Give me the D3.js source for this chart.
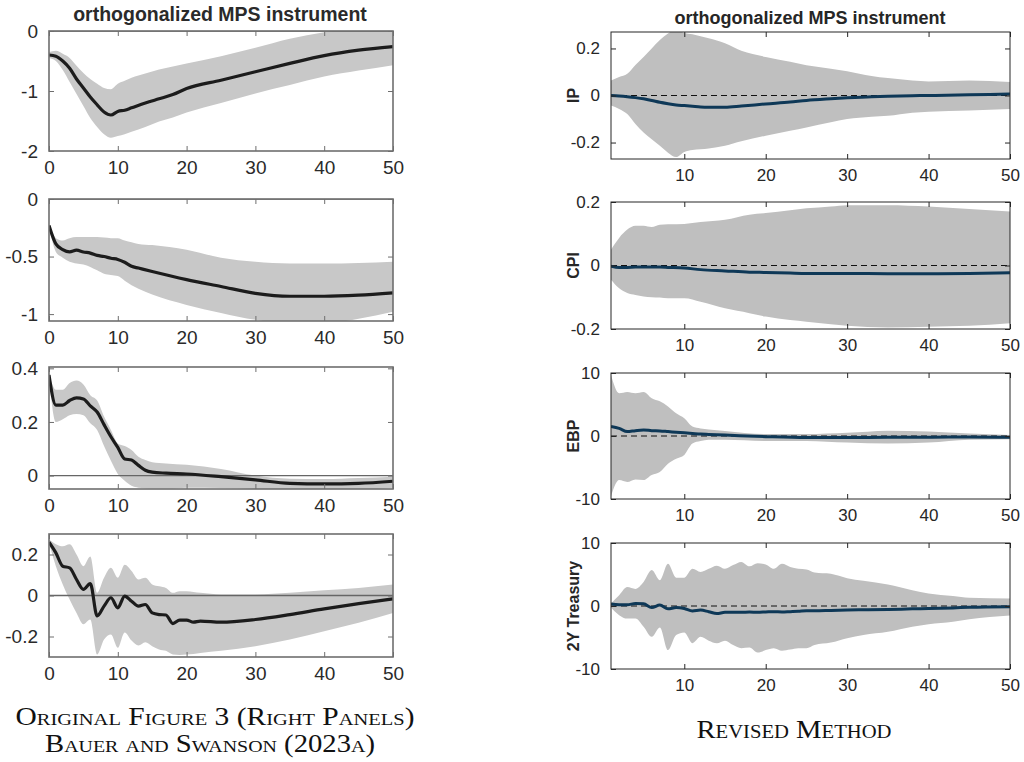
<!DOCTYPE html>
<html>
<head>
<meta charset="utf-8">
<script src="https://cdn.jsdelivr.net/npm/d3@7"></script>
<style>
  html, body { margin: 0; padding: 0; background: #fff; }
  svg { display: block; }
</style>
</head>
<body>
<svg id="chart" width="1024" height="762"></svg>
<script>
// rows: [horizon, lower band, median, upper band]
const origIP = [
  [0, -0.45, -0.40, -0.35], [1, -0.50, -0.42, -0.33], [2, -0.65, -0.50, -0.38], [3, -0.85, -0.62, -0.45],
  [4, -1.05, -0.80, -0.58], [5, -1.25, -0.95, -0.70], [6, -1.45, -1.10, -0.80], [7, -1.60, -1.23, -0.88],
  [8, -1.72, -1.35, -0.95], [9, -1.78, -1.40, -0.97], [10, -1.75, -1.34, -0.88], [11, -1.72, -1.32, -0.83],
  [12, -1.68, -1.28, -0.78], [14, -1.60, -1.20, -0.71], [16, -1.51, -1.13, -0.64], [18, -1.44, -1.06, -0.59],
  [20, -1.36, -0.96, -0.54], [25, -1.20, -0.82, -0.42], [30, -1.04, -0.68, -0.28], [35, -0.90, -0.54, -0.13],
  [40, -0.76, -0.41, -0.02], [45, -0.66, -0.32, 0.04], [50, -0.57, -0.26, 0.08]
]
const origCPI = [
  [0, -0.24, -0.23, -0.22], [1, -0.46, -0.39, -0.34], [2, -0.51, -0.44, -0.36], [3, -0.545, -0.46, -0.34],
  [4, -0.56, -0.445, -0.33], [5, -0.57, -0.46, -0.33], [6, -0.59, -0.47, -0.33], [7, -0.62, -0.49, -0.33],
  [8, -0.65, -0.50, -0.335], [9, -0.66, -0.515, -0.34], [10, -0.67, -0.525, -0.34], [11, -0.71, -0.55, -0.36],
  [12, -0.75, -0.585, -0.375], [13, -0.78, -0.60, -0.39], [15, -0.83, -0.63, -0.40], [20, -0.92, -0.70, -0.44],
  [25, -0.99, -0.76, -0.51], [30, -1.05, -0.82, -0.545], [35, -1.08, -0.845, -0.56], [40, -1.08, -0.845, -0.56],
  [45, -1.04, -0.835, -0.555], [50, -0.98, -0.815, -0.545]
]
const origEBP = [
  [0, 0.37, 0.375, 0.38], [1, 0.20, 0.263, 0.32], [2, 0.21, 0.263, 0.32], [3, 0.225, 0.28, 0.345],
  [4, 0.23, 0.29, 0.355], [5, 0.225, 0.286, 0.34], [6, 0.195, 0.26, 0.30], [7, 0.17, 0.237, 0.28],
  [8, 0.11, 0.19, 0.22], [9, 0.055, 0.145, 0.17], [10, 0.006, 0.105, 0.12], [11, -0.019, 0.062, 0.11],
  [12, -0.038, 0.058, 0.095], [13, -0.045, 0.038, 0.07], [14, -0.047, 0.02, 0.058], [15, -0.048, 0.013, 0.05],
  [17, -0.048, 0.009, 0.045], [20, -0.045, 0.006, 0.04], [25, -0.046, -0.004, 0.025], [30, -0.05, -0.016, 0.0],
  [35, -0.06, -0.029, -0.012], [40, -0.06, -0.031, -0.013], [45, -0.055, -0.029, -0.009], [50, -0.045, -0.021, -0.004]
]
const origTreasury = [
  [0, 0.257, 0.26, 0.273], [1, 0.143, 0.208, 0.25], [2, 0.054, 0.143, 0.24], [3, -0.02, 0.135, 0.25],
  [4, -0.085, 0.078, 0.20], [5, -0.14, 0.03, 0.143], [6, -0.117, 0.058, 0.19], [7, -0.288, -0.10, 0.013],
  [8, -0.215, -0.052, 0.086], [9, -0.19, -0.011, 0.135], [10, -0.255, -0.06, 0.086], [11, -0.18, -0.003, 0.15],
  [12, -0.22, -0.028, 0.12], [13, -0.244, -0.052, 0.078], [14, -0.228, -0.044, 0.086], [15, -0.247, -0.085, 0.054],
  [16, -0.263, -0.093, 0.045], [17, -0.27, -0.095, 0.037], [18, -0.288, -0.137, 0.013], [19, -0.29, -0.12, 0.021],
  [20, -0.288, -0.12, 0.021], [21, -0.285, -0.13, 0.017], [22, -0.28, -0.125, 0.013], [25, -0.27, -0.13, 0.005],
  [30, -0.247, -0.117, 0.005], [35, -0.215, -0.093, 0.013], [40, -0.174, -0.065, 0.026], [45, -0.133, -0.04, 0.037],
  [50, -0.085, -0.016, 0.054]
]

const revIP = [
  [1, -0.043, 0.0, 0.064], [2, -0.057, -0.002, 0.079], [3, -0.079, -0.005, 0.093], [4, -0.121, -0.009, 0.13],
  [5, -0.157, -0.014, 0.164], [6, -0.186, -0.021, 0.20], [7, -0.214, -0.029, 0.236], [8, -0.243, -0.035, 0.264],
  [9, -0.262, -0.04, 0.279], [10, -0.24, -0.043, 0.266], [11, -0.232, -0.046, 0.26], [12, -0.229, -0.049, 0.252],
  [13, -0.225, -0.05, 0.243], [15, -0.214, -0.05, 0.222], [17, -0.195, -0.045, 0.19], [20, -0.171, -0.036, 0.164],
  [23, -0.15, -0.028, 0.143], [25, -0.136, -0.021, 0.129], [28, -0.114, -0.014, 0.114], [30, -0.10, -0.01, 0.103],
  [33, -0.09, -0.005, 0.083], [35, -0.086, -0.003, 0.074], [38, -0.073, -0.001, 0.064], [40, -0.069, 0.0, 0.06],
  [45, -0.064, 0.003, 0.064], [50, -0.057, 0.006, 0.057]
]
const revCPI = [
  [1, -0.045, -0.002, 0.05], [2, -0.072, -0.006, 0.087], [3, -0.087, -0.006, 0.113], [4, -0.093, -0.005, 0.125],
  [5, -0.098, -0.005, 0.125], [6, -0.10, -0.005, 0.121], [7, -0.101, -0.005, 0.128], [8, -0.103, -0.006, 0.13],
  [10, -0.103, -0.008, 0.131], [12, -0.114, -0.013, 0.137], [15, -0.135, -0.017, 0.144], [18, -0.15, -0.021, 0.16],
  [20, -0.161, -0.022, 0.165], [23, -0.172, -0.024, 0.174], [25, -0.177, -0.025, 0.18], [28, -0.185, -0.025, 0.186],
  [30, -0.19, -0.025, 0.19], [35, -0.195, -0.026, 0.19], [40, -0.193, -0.026, 0.186], [45, -0.19, -0.025, 0.178],
  [50, -0.182, -0.023, 0.17]
]
const revEBP = [
  [1, -9.6, 1.5, 9.7], [2, -7.0, 1.2, 6.8], [3, -7.3, 0.7, 7.0], [4, -6.9, 0.85, 6.8],
  [5, -7.0, 0.95, 7.0], [6, -6.2, 0.85, 6.0], [7, -5.7, 0.8, 5.5], [8, -4.4, 0.7, 4.7],
  [9, -3.6, 0.6, 3.6], [10, -3.0, 0.5, 2.8], [11, -1.2, 0.4, 1.5], [12, -0.8, 0.3, 1.2],
  [13, -0.6, 0.25, 1.05], [15, -0.6, 0.15, 0.8], [20, -0.8, -0.1, 0.3], [25, -0.8, -0.25, 0.3],
  [30, -1.05, -0.25, 0.5], [35, -1.2, -0.2, 0.85], [40, -1.05, -0.2, 0.7], [45, -0.6, -0.15, 0.4],
  [50, -0.5, -0.2, 0.15]
]
const revTreasury = [
  [1, -0.25, 0.3, 0.4], [2, -1.45, 0.2, 1.7], [3, -2.0, 0.2, 3.0], [4, -2.0, 0.4, 2.7],
  [5, -3.3, 0.35, 3.8], [6, -4.9, -0.25, 5.7], [7, -3.4, 0.15, 4.1], [8, -7.0, -0.45, 6.7],
  [9, -4.6, -0.25, 4.5], [10, -4.2, -0.4, 4.5], [11, -5.9, -0.8, 5.9], [12, -4.9, -0.65, 5.4],
  [13, -5.5, -0.9, 5.9], [14, -5.9, -1.2, 6.4], [15, -5.5, -1.0, 5.9], [16, -6.2, -1.0, 6.5],
  [17, -6.7, -1.0, 7.0], [18, -6.6, -0.95, 6.3], [19, -7.4, -1.0, 6.8], [20, -7.0, -0.95, 6.6],
  [21, -6.7, -0.9, 5.9], [22, -7.1, -0.95, 6.7], [23, -6.9, -0.9, 6.2], [24, -6.7, -0.85, 5.9],
  [25, -6.7, -0.75, 5.8], [26, -6.2, -0.75, 5.3], [28, -5.8, -0.7, 5.1], [30, -5.1, -0.65, 4.4],
  [32, -4.6, -0.6, 4.0], [35, -4.1, -0.55, 3.4], [38, -3.3, -0.45, 2.5], [40, -2.9, -0.4, 2.0],
  [43, -2.5, -0.3, 1.6], [45, -2.1, -0.2, 1.3], [50, -1.5, -0.1, 1.2]
]

// tick labels
const origXTicks = [0, 10, 20, 30, 40, 50]
const revXTicks = [10, 20, 30, 40, 50]
const origYTicks = [[-2, -1, 0], [-1, -0.5, 0], [0, 0.2, 0.4], [-0.2, 0, 0.2]]
const revYTicks = [[-0.2, 0, 0.2], [-0.2, 0, 0.2], [-10, 0, 10], [-10, 0, 10]]
const revLabels = ['IP', 'CPI', 'EBP', '2Y Treasury']
const titleText = 'orthogonalized MPS instrument'

const svg = d3.select('#chart')

// 樣式
const style = {
  orig: {
    x: [49, 393], xDomain: [0, 50],
    boxes: [[31, 151], [199, 321], [367, 489], [534, 657]],
    yDomains: [[-2, 0], [-1.06, 0], [-0.05, 0.405], [-0.3, 0.3]],
    band: '#c8c8c8', line: '#1c1c1c', lineWidth: 3.2, axis: '#6e6e6e', text: '#2a2a2a',
    font: 19, zero: 'solid', border: 1.6
  },
  rev: {
    x: [611, 1010], xDomain: [1, 50],
    boxes: [[32, 159], [202, 329], [373, 499], [543, 669]],
    yDomains: [[-0.27, 0.27], [-0.2, 0.2], [-10, 10], [-10, 10]],
    band: '#bfbfbf', line: '#0e3857', lineWidth: 3, axis: '#262626', text: '#262626',
    font: 17, zero: 'dashed', border: 1
  }
}

const fmt = (d) => String(d) // 用普通連字號作負號

function drawPanel(s, i, data, xTicks, yTicks, id) {
  const [top, bottom] = s.boxes[i]
  const x = d3.scaleLinear().domain(s.xDomain).range(s.x)
  const y = d3.scaleLinear().domain(s.yDomains[i]).range([bottom, top])
  const g = svg.append('g')

  g.append('clipPath').attr('id', id)
    .append('rect').attr('x', s.x[0]).attr('y', top)
    .attr('width', s.x[1] - s.x[0]).attr('height', bottom - top)

  const plot = g.append('g').attr('clip-path', `url(#${id})`)

  // 置信帶
  plot.append('path')
    .datum(data)
    .attr('fill', s.band)
    .attr('d', d3.area().curve(d3.curveMonotoneX)
      .x(d => x(d[0])).y0(d => y(d[1])).y1(d => y(d[3])))

  // 零線
  plot.append('line')
    .attr('x1', s.x[0]).attr('x2', s.x[1])
    .attr('y1', y(0)).attr('y2', y(0))
    .attr('stroke', s.zero === 'dashed' ? '#111' : '#666')
    .attr('stroke-width', s.zero === 'dashed' ? 1 : 1.3)
    .attr('stroke-dasharray', s.zero === 'dashed' ? '6,4' : null)

  // 中位數曲線
  plot.append('path')
    .datum(data)
    .attr('fill', 'none')
    .attr('stroke', s.line)
    .attr('stroke-width', s.lineWidth)
    .attr('stroke-linejoin', 'round')
    .attr('d', d3.line().curve(d3.curveMonotoneX).x(d => x(d[0])).y(d => y(d[2])))

  // 坐標軸 (刻度朝內, 四邊都有)
  const tick = 5
  const xAxis = g.append('g').attr('transform', `translate(0,${bottom})`)
    .call(d3.axisBottom(x).tickValues(xTicks).tickSize(-tick).tickPadding(10).tickFormat(fmt))
  const xTop = g.append('g').attr('transform', `translate(0,${top})`)
    .call(d3.axisTop(x).tickValues(xTicks).tickSize(-tick).tickFormat(''))
  const yAxis = g.append('g').attr('transform', `translate(${s.x[0]},0)`)
    .call(d3.axisLeft(y).tickValues(yTicks).tickSize(-tick).tickPadding(11).tickFormat(fmt))
  const yRight = g.append('g').attr('transform', `translate(${s.x[1]},0)`)
    .call(d3.axisRight(y).tickValues(yTicks).tickSize(-tick).tickFormat(''))

  ;[xAxis, xTop, yAxis, yRight].forEach((a) => {
    a.select('.domain').remove()
    a.selectAll('line').attr('stroke', s.axis)
    a.selectAll('text')
      .attr('fill', s.text)
      .attr('font-family', 'Liberation Sans, Arial, sans-serif')
      .attr('font-size', s.font)
  })

  g.append('rect')
    .attr('x', s.x[0]).attr('y', top)
    .attr('width', s.x[1] - s.x[0]).attr('height', bottom - top)
    .attr('fill', 'none').attr('stroke', s.axis)
    .attr('stroke-width', s.border)

  return { y }
}

const origData = [origIP, origCPI, origEBP, origTreasury]
const revData = [revIP, revCPI, revEBP, revTreasury]

origData.forEach((d, i) => drawPanel(style.orig, i, d, origXTicks, origYTicks[i], 'clipO' + i))
revData.forEach((d, i) => {
  const p = drawPanel(style.rev, i, d, revXTicks, revYTicks[i], 'clipR' + i)
  // 縱軸標題
  svg.append('text')
    .text(revLabels[i])
    .attr('transform', `translate(579,${p.y(0)}) rotate(-90)`)
    .attr('text-anchor', 'middle')
    .attr('font-family', 'Liberation Sans, Arial, sans-serif')
    .attr('font-weight', 'bold')
    .attr('font-size', 16)
    .attr('fill', '#262626')
})

// 標題
svg.append('text').text(titleText)
  .attr('x', 220).attr('y', 21)
  .attr('text-anchor', 'middle')
  .attr('font-family', 'Liberation Sans, Arial, sans-serif')
  .attr('font-weight', 'bold').attr('font-size', 19.5).attr('fill', '#2a2a2a')
svg.append('text').text(titleText)
  .attr('x', 810).attr('y', 24)
  .attr('text-anchor', 'middle')
  .attr('font-family', 'Liberation Sans, Arial, sans-serif')
  .attr('font-weight', 'bold').attr('font-size', 18).attr('fill', '#262626')

// 圖注: [文字, x, y, 字號, 寬度]
const captions = [
  ['Original Figure 3 (Right Panels)', 215, 725, 24.5, 399],
  ['Bauer and Swanson (2023a)', 210, 752, 24.5, 330],
  ['Revised Method', 794, 738, 25, 195]
]
svg.selectAll('text.caption').data(captions).enter().append('text')
  .attr('class', 'caption')
  .text(d => d[0])
  .attr('x', d => d[1]).attr('y', d => d[2])
  .attr('text-anchor', 'middle')
  .attr('font-family', 'Liberation Serif, Times New Roman, serif')
  .attr('font-size', d => d[3])
  .attr('textLength', d => d[4])
  .attr('lengthAdjust', 'spacingAndGlyphs')
  .style('font-variant', 'small-caps')
  .attr('fill', '#111')
</script>
</body>
</html>
